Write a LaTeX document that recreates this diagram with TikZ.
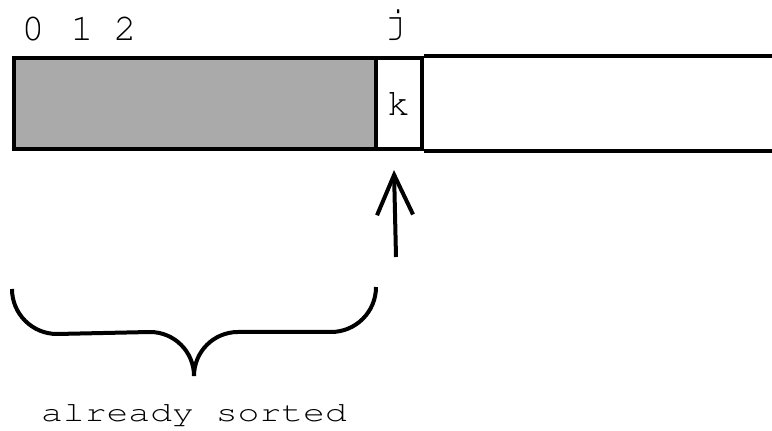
\documentclass[tikz,border=0pt]{standalone}
\usepackage{graphicx}
\usepackage[T1]{fontenc}
\usepackage{courier}
\usetikzlibrary{arrows.meta}
\definecolor{sortedgray}{RGB}{170,170,170}
\tikzset{
  cell/.style={draw, line width=4pt, minimum height=91.5pt, inner sep=0pt,
    font=\ttfamily\fontsize{38}{40}\selectfont},
  index/.style={anchor=base, inner sep=0pt, font=\ttfamily\fontsize{38}{40}\selectfont},
  thick line/.style={line width=4pt},
}

\begin{document}
\begin{tikzpicture}[x=1pt,y=1pt]
 \useasboundingbox (0,0) rectangle (772,431);

 % the array: sorted part, element k, open rest
 \node[cell, fill=sortedgray, minimum width=361.5pt] (sorted) at (194.75,327.25) {};
 \node[cell, minimum width=46pt] (kcell) at (398.5,327.25) {k};
 \coordinate (edge) at (772,0);
 \draw[thick line] (kcell.north east) -- (kcell.north east -| edge);
 \draw[thick line] (kcell.south east) -- (kcell.south east -| edge);

 % indices above the cells
 \node[index] (i0) at (33,390) {0};
 \node[index] (i1) at (82,390) {1};
 \node[index] (i2) at (125,390) {2};
 \node[index] (ij) at (395,397) {j};

 % arrow up to element j
 \coordinate (arrowtail) at (396,174);
 \coordinate (arrowtip) at (394,261);
 \draw[thick line, -{Straight Barb[length=40pt, width=36pt]}] (arrowtail) -- (arrowtip);

 % brace under the sorted part
 \draw[thick line] ([yshift=-137.5pt]sorted.south west)
   arc[start angle=180, end angle=270, radius=45] -- (150,99)
   arc[start angle=90, end angle=0, radius=44]
   arc[start angle=180, end angle=90, radius=44] -- (331,99)
   arc[start angle=270, end angle=360, radius=45];
 \node[anchor=base, inner sep=0pt, font=\ttfamily\fontsize{28}{30}\selectfont] (sortedlabel)
   at (194,9) {\scalebox{1.3}[1]{already sorted}};

\end{tikzpicture}
\end{document}
